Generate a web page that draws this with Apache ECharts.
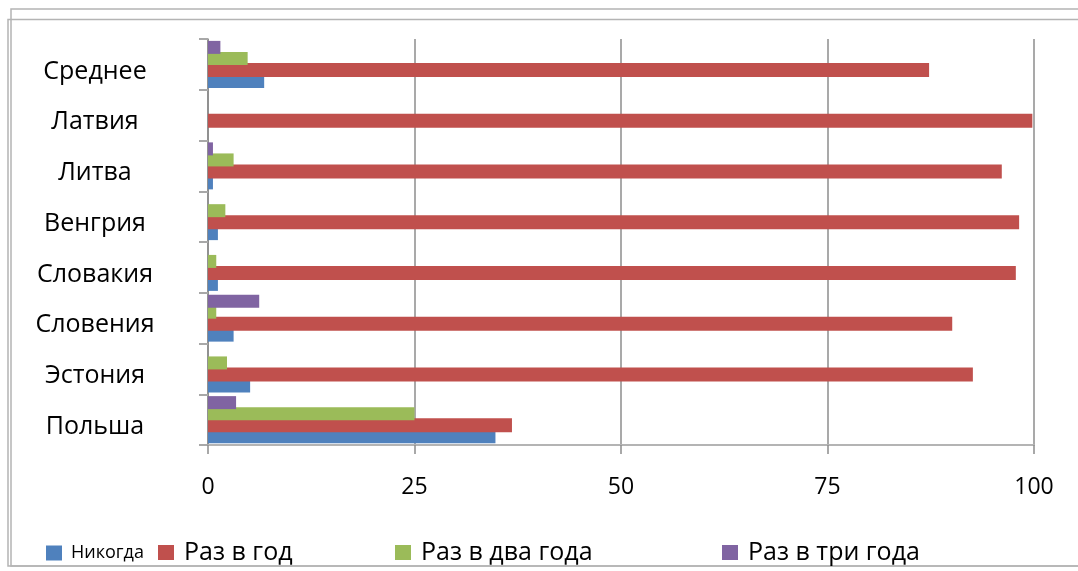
<!DOCTYPE html>
<html>
<head>
<meta charset="utf-8">
<script src="https://cdn.jsdelivr.net/npm/echarts@6/dist/echarts.min.js"></script>
<style>
  html, body { margin: 0; padding: 0; background: #ffffff; }
  #chart { width: 1078px; height: 571px; }
</style>
</head>
<body>
<div id="chart"></div>
<script>
// Categories, bottom to top
const categories = ['Польша', 'Эстония', 'Словения', 'Словакия', 'Венгрия', 'Литва', 'Латвия', 'Среднее'];
const seriesNames = ['Никогда', 'Раз в год', 'Раз в два года', 'Раз в три года'];
const never      = [34.8, 5.1, 3.1, 1.2, 1.2, 0.6, 0,    6.8];
const perYear    = [36.8, 92.6, 90.1, 97.8, 98.2, 96.1, 99.8, 87.3];
const perTwo     = [25.0, 2.3, 1.0, 1.0, 2.1, 3.1, 0,    4.8];
const perThree   = [3.4, 0,   6.2, 0,   0,   0.6, 0,    1.5];
const xTicks = [0, 25, 50, 75, 100];

const colors = { 'Никогда': '#4F81BD', 'Раз в год': '#C0504D', 'Раз в два года': '#9BBB59', 'Раз в три года': '#8064A2' };
const FONT = '"Open Sans", "Noto Sans", sans-serif';

const chart = echarts.init(document.getElementById('chart'), null, { renderer: 'canvas' });

function mkSeries(name, data, width, z) {
  return {
    name: name, type: 'bar', data: data, barWidth: width, barGap: '-15%',
    itemStyle: { color: colors[name] }, z: z, animation: false
  };
}

function mkLegend(name, left, fontSize, textPad) {
  return {
    data: [name], left: left, top: 552 - 8, padding: 0,
    icon: 'rect', itemWidth: 16, itemHeight: 15,
    textStyle: { fontFamily: FONT, fontSize: fontSize, color: '#000', padding: [0, 0, 0, textPad] },
    selectedMode: false
  };
}

const option = {
  backgroundColor: '#ffffff',
  animation: false,
  graphic: [
    { type: 'rect', shape: { x: 11, y: 9, width: 1200, height: 557 }, style: { fill: 'none', stroke: '#b4b4b4', lineWidth: 1.5 }, silent: true },
    { type: 'rect', shape: { x: 8, y: 19.5, width: 1200, height: 546.5 }, style: { fill: 'none', stroke: '#b4b4b4', lineWidth: 1.5 }, silent: true }
  ],
  grid: { left: 208, right: 44, top: 39, bottom: 126, containLabel: false },
  legend: [
    mkLegend(seriesNames[0], 46, 18, 4),
    { ...mkLegend(seriesNames[1], 158, 25, 5), top: 552 - 12 },
    { ...mkLegend(seriesNames[2], 395, 25, 5), top: 552 - 12 },
    { ...mkLegend(seriesNames[3], 722, 25, 5), top: 552 - 12 }
  ],
  xAxis: {
    type: 'value', min: xTicks[0], max: xTicks[xTicks.length - 1], interval: 25,
    axisLine: { show: true, lineStyle: { color: '#b4b4b4', width: 2 } },
    axisTick: { show: true, length: 9, lineStyle: { color: '#8c8c8c', width: 1.5 } },
    axisLabel: { margin: 31, fontFamily: FONT, fontSize: 23, color: '#000' },
    splitLine: { show: true, lineStyle: { color: '#8c8c8c', width: 1.5 } }
  },
  yAxis: {
    type: 'category', data: categories,
    axisLine: { show: true, lineStyle: { color: '#8a8a8a', width: 1.5 } },
    axisTick: { show: true, length: 9, lineStyle: { color: '#a8a8a8', width: 2 } },
    axisLabel: { margin: 113, align: 'center', verticalAlign: 'top', lineHeight: 14, fontFamily: FONT, fontSize: 25, color: '#000' },
    splitLine: { show: false }
  },
  series: [
    mkSeries(seriesNames[3], perThree, 13, 5),
    mkSeries(seriesNames[2], perTwo, 13, 4),
    mkSeries(seriesNames[1], perYear, 14, 3),
    mkSeries(seriesNames[0], never, 13, 2)
  ]
};
chart.setOption(option);
</script>
</body>
</html>
